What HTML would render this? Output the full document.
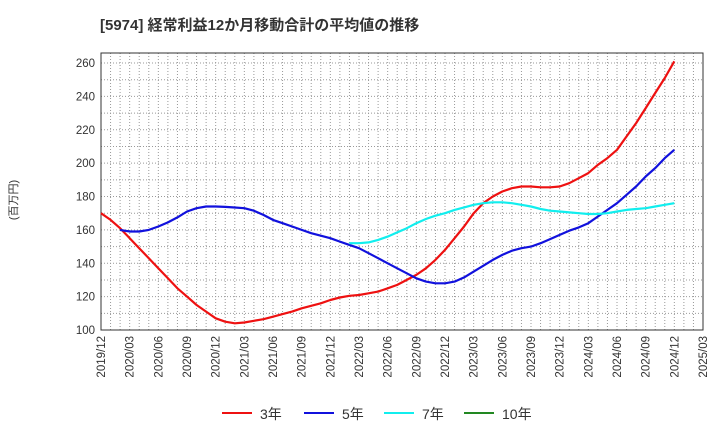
<!DOCTYPE html>
<html><head><meta charset="utf-8"><style>
body{margin:0;background:#fff;font-family:"Liberation Sans","Noto Sans CJK JP",sans-serif}
</style></head><body>
<svg id="c" width="720" height="440" xmlns="http://www.w3.org/2000/svg" font-family="Liberation Sans, Noto Sans CJK JP, sans-serif">
<text x="100" y="30" font-size="15" font-weight="bold" fill="#333">[5974]  経常利益12か月移動合計の平均値の推移</text>
<text transform="translate(17,200) rotate(-90)" font-size="11" fill="#333" text-anchor="middle">(百万円)</text>
<g id="grid"></g><g id="axes"></g><g id="series"></g><g id="legend"></g>
</svg>
<script>
const xLabels=["2019/12","2020/03","2020/06","2020/09","2020/12","2021/03","2021/06","2021/09","2021/12","2022/03","2022/06","2022/09","2022/12","2023/03","2023/06","2023/09","2023/12","2024/03","2024/06","2024/09","2024/12","2025/03"];
const yTicks=[100,120,140,160,180,200,220,240,260];
const s3=[170,166,161,155,149,143,137,131,125,120,115,111,107,105,104,104.5,105.5,106.5,108,109.5,111,113,114.5,116,118,119.5,120.5,121,122,123,125,127,130,133,137,142,148,155,162,170,176,180,183,185,186,186,185.5,185.5,186,188,191,194,199,203,208,216,224,233,242,251,261];
const s5=[null,null,160,159,159,160,162,164.5,167.5,171,173,174,174,173.8,173.4,173,171.5,169,166,164,162,160,158,156.5,155,153,151,149,146,143,140,137,134,131,129,128,128,129,131.5,135,138.5,142,145,147.5,149,150,152,154.5,157,159.5,161.5,164,168,172,176,181,186,192,197,203,208];
const s7=[];for(let i=0;i<26;i++)s7.push(null);
s7.push(152,152,152.5,154,156,158.5,161,164,166.5,168.5,170,172,173.5,175,176,176.5,176.5,176,175,174,172.5,171.5,171,170.5,170,169.5,169.5,170,171,172,172.5,173,174,175,176);
const s10=[];
const L=101,R=703,T=53,B=330,ymin=100,ymax=266;
const X=i=>L+(R-L)*i/63, Y=v=>B-(v-ymin)*(B-T)/(ymax-ymin);
const NS="http://www.w3.org/2000/svg";
function mk(t,a,p){const e=document.createElementNS(NS,t);for(const k in a)e.setAttribute(k,a[k]);p.appendChild(e);return e;}
const g=document.getElementById('grid'),ax=document.getElementById('axes'),sg=document.getElementById('series'),lg=document.getElementById('legend');
for(let i=1;i<63;i++){const l=mk('line',{x1:X(i),x2:X(i),y1:T,y2:B,stroke:'#999','stroke-dasharray':'1,2','stroke-width':1},g);
}
for(let v=110;v<ymax;v+=10){const l=mk('line',{x1:L,x2:R,y1:Y(v),y2:Y(v),stroke:'#999','stroke-dasharray':'1,2','stroke-width':1},g);
}
const fr=mk('rect',{x:L,y:T,width:R-L,height:B-T,fill:'none',stroke:'#333','stroke-width':1},ax);

yTicks.forEach(v=>{const t=mk('text',{x:L-6,y:Y(v)+4,'font-size':11.5,fill:'#333','text-anchor':'end'},ax);t.textContent=v;
});
xLabels.forEach((s,i)=>{const x=X(i*3);const t=mk('text',{transform:`translate(${x+4},${B+6}) rotate(-90)`,'font-size':11.5,fill:'#333','text-anchor':'end'},ax);t.textContent=s;
});
function draw(arr,col,name){let d='';arr.forEach((v,i)=>{if(v==null)return;d+=(d?'L':'M')+X(i).toFixed(1)+','+Y(v).toFixed(1);});
if(!d)return;const p=mk('path',{d:d,fill:'none',stroke:col,'stroke-width':2.2,'stroke-linejoin':'round'},sg);
}
draw(s3,'#ee1111','line-3yr');draw(s5,'#1111dd','line-5yr');draw(s7,'#11eeee','line-7yr');draw(s10,'#228822','line-10yr');
[['3年','#ee1111',222],['5年','#1111dd',304],['7年','#11eeee',384],['10年','#228822',464]].forEach(([n,c,x])=>{
const l=mk('line',{x1:x,x2:x+30,y1:413,y2:413,stroke:c,'stroke-width':2},lg);
const t=mk('text',{x:x+38,y:419,'font-size':14,fill:'#333'},lg);t.textContent=n;});
</script>
</body></html>
